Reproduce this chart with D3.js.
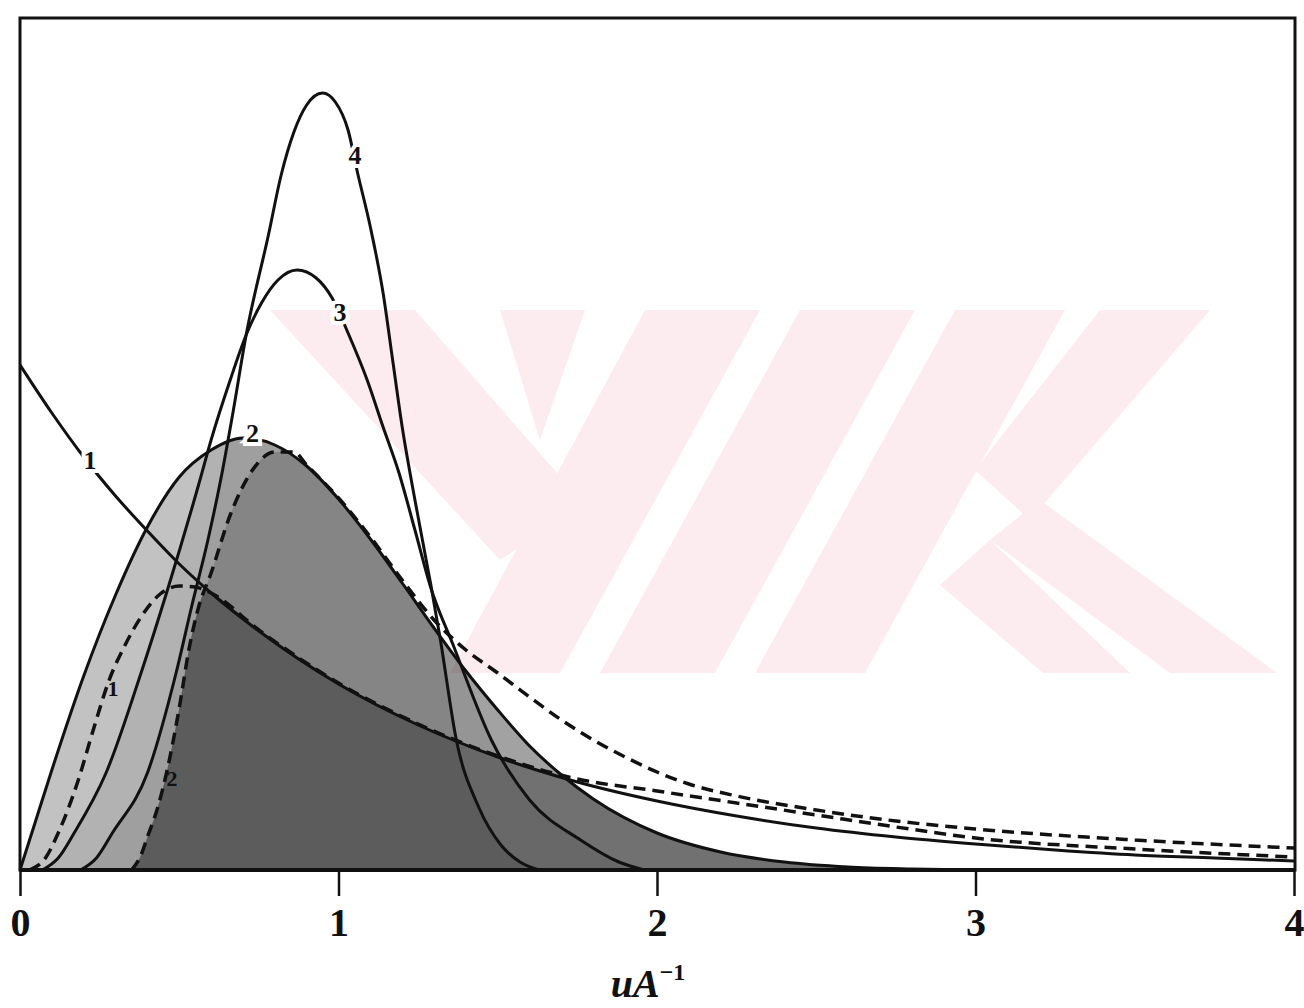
<!DOCTYPE html>
<html>
<head>
<meta charset="utf-8">
<script src="https://cdn.jsdelivr.net/npm/d3@7"></script>
<style>
  body { margin: 0; background: #fff; }
</style>
</head>
<body>
<div id="chart"></div>
<script>
// x is u/A, y is in arbitrary units (no y axis in the original)
const tickValues = [0, 1, 2, 3, 4];
const tickLabels = ["0", "1", "2", "3", "4"];

// solid curve 1, decays from the left edge
const curve1 = [[0, 5.05], [0.1, 4.57], [0.2, 4.13], [0.3, 3.74], [0.4, 3.39], [0.5, 3.06],
  [0.6, 2.77], [0.75, 2.39], [1.0, 1.86], [1.25, 1.45], [1.5, 1.13], [1.75, 0.88], [2.0, 0.69],
  [2.25, 0.54], [2.5, 0.42], [2.75, 0.33], [3.0, 0.26], [3.25, 0.20], [3.5, 0.15], [3.75, 0.12], [4.0, 0.09]];

// solid curve 2, outline of the light shading
const curve2 = [[0, 0], [0.05, 0.50], [0.1, 1.0], [0.2, 1.94], [0.3, 2.75], [0.4, 3.43], [0.5, 3.93],
  [0.6, 4.20], [0.7, 4.32], [0.8, 4.25], [0.9, 4.04], [1.0, 3.71], [1.1, 3.31], [1.2, 2.87],
  [1.3, 2.42], [1.4, 1.99], [1.5, 1.60], [1.6, 1.24], [1.7, 0.95], [1.8, 0.71], [2.0, 0.37],
  [2.2, 0.18], [2.4, 0.08], [2.6, 0.03], [2.8, 0.01], [3.0, 0]];

const curve3 = [[0.07, 0], [0.12, 0.12], [0.17, 0.37], [0.27, 0.97], [0.38, 1.97], [0.46, 2.77],
  [0.565, 3.90], [0.60, 4.30], [0.66, 4.90], [0.71, 5.35], [0.76, 5.68], [0.81, 5.90], [0.87, 6.00],
  [0.93, 5.92], [0.98, 5.72], [1.03, 5.37], [1.09, 4.90], [1.14, 4.43], [1.19, 3.97], [1.24, 3.40],
  [1.29, 2.82], [1.36, 2.25], [1.48, 1.30], [1.60, 0.70], [1.76, 0.30], [1.88, 0.08], [1.96, 0]];

const curve4 = [[0.19, 0], [0.24, 0.12], [0.29, 0.37], [0.40, 0.97], [0.49, 1.97], [0.54, 2.65],
  [0.59, 3.30], [0.63, 3.90], [0.67, 4.60], [0.71, 5.35], [0.78, 6.35], [0.82, 6.95], [0.86, 7.38],
  [0.90, 7.65], [0.95, 7.77], [0.99, 7.68], [1.03, 7.40], [1.06, 6.97], [1.10, 6.43], [1.14, 5.77],
  [1.17, 5.10], [1.20, 4.43], [1.24, 3.70], [1.29, 2.85], [1.32, 2.30], [1.37, 1.30], [1.44, 0.63],
  [1.51, 0.25], [1.57, 0.08], [1.63, 0]];

// dashed curves
const dashed1 = [[0.03, 0], [0.08, 0.12], [0.12, 0.37], [0.18, 0.87], [0.23, 1.40], [0.28, 1.90],
  [0.33, 2.25], [0.38, 2.53], [0.44, 2.76], [0.50, 2.84], [0.55, 2.83], [0.60, 2.77], [0.75, 2.40],
  [1.0, 1.87], [1.25, 1.46], [1.5, 1.14], [1.75, 0.91], [2.0, 0.79], [2.25, 0.67], [2.5, 0.55],
  [2.75, 0.43], [3.0, 0.32], [3.5, 0.21], [4.0, 0.13]];

const dashed2 = [[0.35, 0], [0.38, 0.15], [0.40, 0.33], [0.43, 0.60], [0.46, 0.97], [0.50, 1.62],
  [0.53, 2.20], [0.56, 2.62], [0.60, 2.97], [0.66, 3.55], [0.73, 4.00], [0.80, 4.18], [0.86, 4.18],
  [0.9, 4.05], [1.0, 3.72], [1.1, 3.33], [1.2, 2.90], [1.3, 2.50], [1.4, 2.20], [1.5, 1.97],
  [1.6, 1.73], [1.7, 1.50], [1.8, 1.30], [1.9, 1.13], [2.0, 0.98], [2.1, 0.86], [2.25, 0.74],
  [2.5, 0.60], [2.75, 0.49], [3.0, 0.41], [3.5, 0.30], [4.0, 0.22]];

// curve numbers: text, u, value, kind
const curveLabels = [["1", 0.22, 4.10, "main"], ["2", 0.73, 4.37, "main"], ["3", 1.005, 5.58, "main"],
  ["4", 1.052, 7.15, "main"], ["1", 0.292, 1.82, "small"], ["2", 0.477, 0.92, "small"]];

// pink watermark of the scanned page (page pixels, not data)
const watermark = [
  [[270, 310], [415, 310], [585, 505], [500, 560]],
  [[500, 310], [585, 310], [540, 440]],
  [[645, 310], [760, 310], [560, 673], [450, 673]],
  [[800, 310], [915, 310], [715, 673], [600, 673]],
  [[955, 310], [1065, 310], [865, 673], [755, 673]],
  [[1100, 310], [1210, 310], [1030, 520], [975, 470]],
  [[990, 540], [1040, 500], [1277, 673], [1170, 673]],
  [[940, 585], [990, 540], [1130, 673], [1043, 673]]
];

const width = 1304, height = 1008;

const svg = d3.select("#chart")
  .append("svg")
  .attr("width", width)
  .attr("height", height);

const x = d3.scaleLinear().domain([0, 4]).range([20, 1294]);
const y = d3.scaleLinear().domain([0, 8.5]).range([870, 20]);

const line = d3.line()
  .x(d => x(d[0]))
  .y(d => y(d[1]))
  .curve(d3.curveMonotoneX);

const area = d3.area()
  .x(d => x(d[0]))
  .y0(y(0))
  .y1(d => y(d[1]))
  .curve(d3.curveMonotoneX);

// watermark
svg.append("g")
  .selectAll("polygon")
  .data(watermark)
  .join("polygon")
  .attr("points", d => d.map(p => p.join(",")).join(" "))
  .attr("fill", "#fdecef");

const defs = svg.append("defs");
defs.append("clipPath").attr("id", "clip-c2")
  .append("path").attr("d", area(curve2));
defs.append("clipPath").attr("id", "clip-d2")
  .append("path").attr("d", area(dashed2));

// halftone shading, all inside curve 2
const shade = svg.append("g").attr("clip-path", "url(#clip-c2)");
shade.append("path").attr("d", area(curve2)).attr("fill", "#000").attr("fill-opacity", 0.24);
shade.append("path").attr("d", area(curve3)).attr("fill", "#000").attr("fill-opacity", 0.08);
shade.append("path").attr("d", area(curve4)).attr("fill", "#000").attr("fill-opacity", 0.10);
shade.append("path").attr("d", area(dashed2)).attr("fill", "#000").attr("fill-opacity", 0.16);
shade.append("g").attr("clip-path", "url(#clip-d2)")
  .append("path").attr("d", area(dashed1)).attr("fill", "#000").attr("fill-opacity", 0.30);

// curves
[curve1, curve2, curve3, curve4].forEach(c => {
  svg.append("path")
    .datum(c)
    .attr("fill", "none")
    .attr("stroke", "#111")
    .attr("stroke-width", 3)
    .attr("d", line);
});

[dashed1, dashed2].forEach(c => {
  svg.append("path")
    .datum(c)
    .attr("fill", "none")
    .attr("stroke", "#111")
    .attr("stroke-width", 3.5)
    .attr("stroke-dasharray", "12 7")
    .attr("d", line);
});

// curve numbers
svg.append("g")
  .selectAll("text")
  .data(curveLabels)
  .join("text")
  .attr("x", d => x(d[1]))
  .attr("y", d => y(d[2]))
  .attr("dy", "0.35em")
  .attr("text-anchor", "middle")
  .attr("font-family", "'Liberation Serif', serif")
  .attr("font-weight", "bold")
  .attr("font-size", d => d[3] === "main" ? 26 : 22)
  .attr("fill", "#111")
  .attr("stroke", d => d[3] === "main" ? "#fff" : "none")
  .attr("stroke-width", 8)
  .attr("paint-order", "stroke")
  .text(d => d[0]);

// x axis
const xAxis = d3.axisBottom(x)
  .tickValues(tickValues)
  .tickFormat((d, i) => tickLabels[i])
  .tickSize(26)
  .tickPadding(12)
  .tickSizeOuter(0);

const gx = svg.append("g")
  .attr("transform", `translate(0,${y(0)})`)
  .call(xAxis);
gx.select(".domain").remove();
gx.selectAll(".tick line").attr("stroke", "#111").attr("stroke-width", 2.5);
gx.selectAll(".tick text")
  .attr("font-family", "'Liberation Serif', serif")
  .attr("font-weight", "bold")
  .attr("font-size", 40)
  .attr("fill", "#111");

const title = svg.append("text")
  .attr("x", 648)
  .attr("y", 997)
  .attr("text-anchor", "middle")
  .attr("font-family", "'Liberation Serif', serif")
  .attr("font-weight", "bold")
  .attr("fill", "#111");
title.append("tspan").attr("font-style", "italic").attr("font-size", 40).text("uA");
title.append("tspan").attr("font-size", 24).attr("dy", -17).text("−1");

// frame
svg.append("rect")
  .attr("x", x(0))
  .attr("y", 18)
  .attr("width", x(4) - x(0) + 1)
  .attr("height", y(0) - 18)
  .attr("fill", "none")
  .attr("stroke", "#111")
  .attr("stroke-width", 3);
svg.append("line")
  .attr("x1", x(0)).attr("x2", x(4))
  .attr("y1", y(0)).attr("y2", y(0))
  .attr("stroke", "#111")
  .attr("stroke-width", 4);
</script>
</body>
</html>
